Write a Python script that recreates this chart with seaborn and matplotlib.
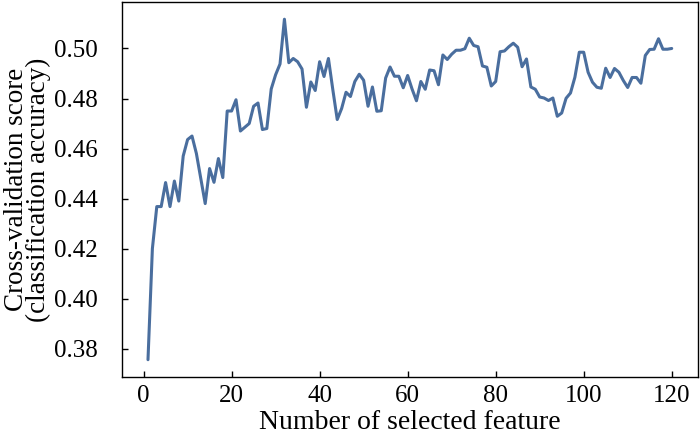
import numpy as np
import pandas as pd
import seaborn as sns
import matplotlib.pyplot as plt

# number of selected features (1..120)
n_features = list(range(1, 121))

# cross-validation score for each feature count
cv_scores = [
    0.3756, 0.4200, 0.4368, 0.4368, 0.4464, 0.4368, 0.4470, 0.4390, 0.4570, 0.4636,
    0.4650, 0.4580, 0.4480, 0.4380, 0.4520, 0.4465, 0.4560, 0.4484, 0.4750, 0.4750,
    0.4795, 0.4670, 0.4685, 0.4700, 0.4769, 0.4782, 0.4676, 0.4680, 0.4838, 0.4895,
    0.4938, 0.5117, 0.4943, 0.4960, 0.4947, 0.4918, 0.4765, 0.4866, 0.4832, 0.4947,
    0.4888, 0.4960, 0.4835, 0.4716, 0.4760, 0.4825, 0.4808, 0.4868, 0.4897, 0.4873,
    0.4769, 0.4846, 0.4749, 0.4751, 0.4882, 0.4926, 0.4889, 0.4889, 0.4843, 0.4892,
    0.4838, 0.4791, 0.4868, 0.4837, 0.4914, 0.4911, 0.4855, 0.4974, 0.4956, 0.4977,
    0.4993, 0.4993, 0.4999, 0.5041, 0.5012, 0.5007, 0.4930, 0.4925, 0.4850, 0.4868,
    0.4987, 0.4990, 0.5007, 0.5021, 0.5005, 0.4927, 0.4958, 0.4846, 0.4837, 0.4806,
    0.4802, 0.4792, 0.4802, 0.4729, 0.4742, 0.4801, 0.4822, 0.4885, 0.4985, 0.4985,
    0.4905, 0.4865, 0.4845, 0.4841, 0.4921, 0.4884, 0.4920, 0.4905, 0.4872, 0.4844,
    0.4884, 0.4884, 0.4861, 0.4972, 0.4996, 0.4997, 0.5039, 0.4997, 0.4997, 0.5000,
]

x_ticks = [0, 20, 40, 60, 80, 100, 120]
y_ticks = [0.38, 0.40, 0.42, 0.44, 0.46, 0.48, 0.50]

df = pd.DataFrame({"n": n_features, "score": cv_scores})

sns.set_style("ticks")
plt.rcParams["font.family"] = ["Liberation Serif", "DejaVu Serif"]
plt.rcParams["text.color"] = "black"
plt.rcParams["axes.labelcolor"] = "black"

fig, ax = plt.subplots(figsize=(7, 4.36), dpi=100)
fig.subplots_adjust(left=0.174, right=0.997, top=0.995, bottom=0.136)

sns.lineplot(data=df, x="n", y="score", ax=ax, color="#4a6e9e", linewidth=2.2)

ax.set_xticks(x_ticks)
ax.set_yticks(y_ticks)
ax.set_yticklabels([f"{v:.2f}" for v in y_ticks])
ax.tick_params(axis="both", direction="in", length=4, width=1, labelsize=18,
               colors="black", labelcolor="black", top=False, right=False)
ax.tick_params(axis="x", pad=6)
ax.tick_params(axis="y", pad=17)

for sp in ax.spines.values():
    sp.set_visible(True)
    sp.set_linewidth(1.0)
    sp.set_color("black")

ax.set_xlabel("Number of selected feature", fontsize=20, labelpad=2)
ax.set_ylabel("Cross-validation score\n(classification accuracy)", fontsize=19.5,
              linespacing=0.82)
ax.yaxis.set_label_coords(-0.123, 0.5)

fig.savefig("out.png", dpi=100)
